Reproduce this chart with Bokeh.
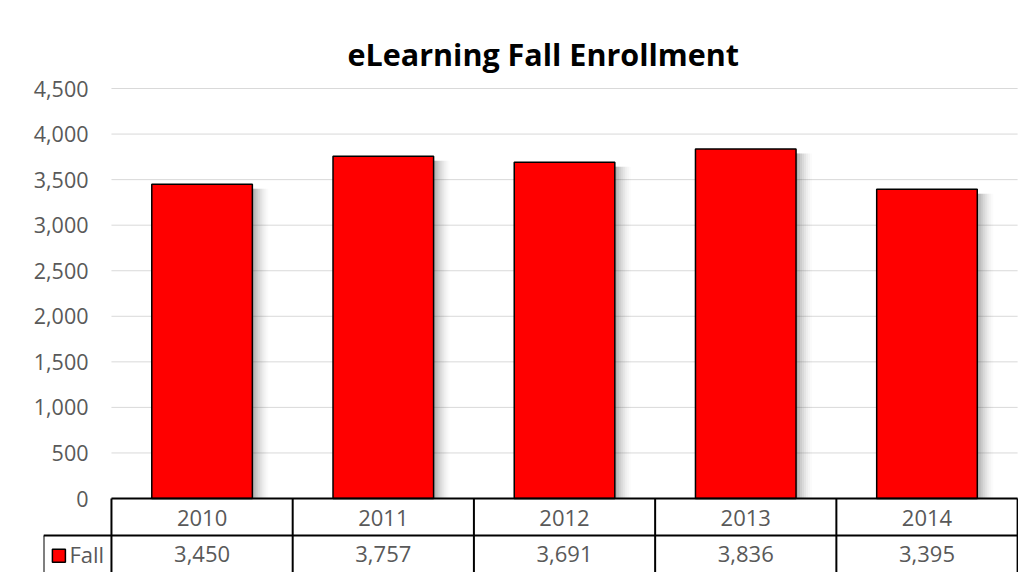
from bokeh.plotting import figure
from bokeh.models import ColumnDataSource, Range1d, FixedTicker, NumeralTickFormatter
from bokeh.transform import dodge
from bokeh.core.properties import value
from bokeh.embed import file_html
from bokeh.resources import INLINE

# ---- data ----
years = ["2010", "2011", "2012", "2013", "2014"]
fall = [3450, 3757, 3691, 3836, 3395]
y_ticks = [0, 500, 1000, 1500, 2000, 2500, 3000, 3500, 4000, 4500]
series_name = "Fall"
title_text = "eLearning Fall Enrollment"

FONT = "Open Sans"
GRAY = "#595959"

xs = [i + 0.5 for i in range(len(years))]
labels = [f"{v:,}" for v in fall]
src = ColumnDataSource(dict(x=xs, year=years, fall=fall, label=labels))

n = len(years)
row_h = 406  # table row height in y units
p = figure(width=1018, height=572, output_backend="svg", toolbar_location=None,
           x_range=Range1d(-0.375, n + 0.005), y_range=Range1d(-2 * row_h, 4577),
           min_border_left=43, min_border_right=0, min_border_bottom=0, min_border_top=81,
           title=title_text)
p.outline_line_color = None
p.background_fill_color = "white"
p.border_fill_color = "white"

p.title.text_font = FONT
p.title.text_font_size = "30.5px"
p.title.text_font_style = "bold"
p.title.text_color = "black"
p.title.align = "left"
p.title.offset = 304
p.title.standoff = 13

p.xaxis.visible = False
p.xgrid.visible = False
p.ygrid.visible = False
yax = p.yaxis[0]
yax.ticker = FixedTicker(ticks=y_ticks)
yax.formatter = NumeralTickFormatter(format="0,0")
yax.axis_line_color = None
yax.major_tick_line_color = None
yax.minor_tick_line_color = None
yax.major_tick_in = 0
yax.major_tick_out = 0
yax.major_label_standoff = -45
yax.major_label_text_font = FONT
yax.major_label_text_font_size = "21.5px"
yax.major_label_text_color = GRAY

# gridlines across the plot area only
grid_y = [t for t in y_ticks if t > 0]
p.segment(x0=[0] * len(grid_y), x1=[n] * len(grid_y), y0=grid_y, y1=grid_y,
          line_color="#d9d9d9", line_width=1)

# soft bar shadows
for k, a in enumerate([0.12, 0.10, 0.08, 0.06, 0.05, 0.04, 0.03, 0.02]):
    p.vbar(x=dodge("x", 0.011 * (k + 1), range=p.x_range), top=dodge("fall", -50, range=p.y_range),
           bottom=0, width=0.555, source=src, fill_color="#404040", fill_alpha=a, line_color=None)

# bars
p.vbar(x="x", top="fall", bottom=0, width=0.555, source=src,
       fill_color="#ff0000", line_color="black", line_width=1.5)

# data table
tbl_lines = dict(line_color="black", line_width=2)
p.segment(x0=[0], x1=[n], y0=[0], y1=[0], **tbl_lines)
p.segment(x0=[-0.375], x1=[n], y0=[-row_h], y1=[-row_h], **tbl_lines)
vx = list(range(n + 1))
p.segment(x0=vx, x1=vx, y0=[0] * len(vx), y1=[-3 * row_h] * len(vx), **tbl_lines)
p.segment(x0=[-0.375], x1=[-0.375], y0=[-row_h], y1=[-3 * row_h], **tbl_lines)

txt = dict(text_font=value(FONT), text_font_size="22px", text_color=GRAY, text_baseline="middle")
p.text(x="x", y=-row_h / 2 - 10, text="year", source=src, text_align="center", **txt)
p.text(x="x", y=-1.5 * row_h, text="label", source=src, text_align="center", **txt)

# legend key for series in the table
p.scatter(x=[-0.29], y=[-1.5 * row_h - 20], marker="square", size=13,
          fill_color="#ff0000", line_color="black", line_width=1.5)
p.text(x=[-0.232], y=[-1.5 * row_h], text=[series_name], text_align="left", **txt)

open("out.html", "w").write(file_html(p, INLINE))
